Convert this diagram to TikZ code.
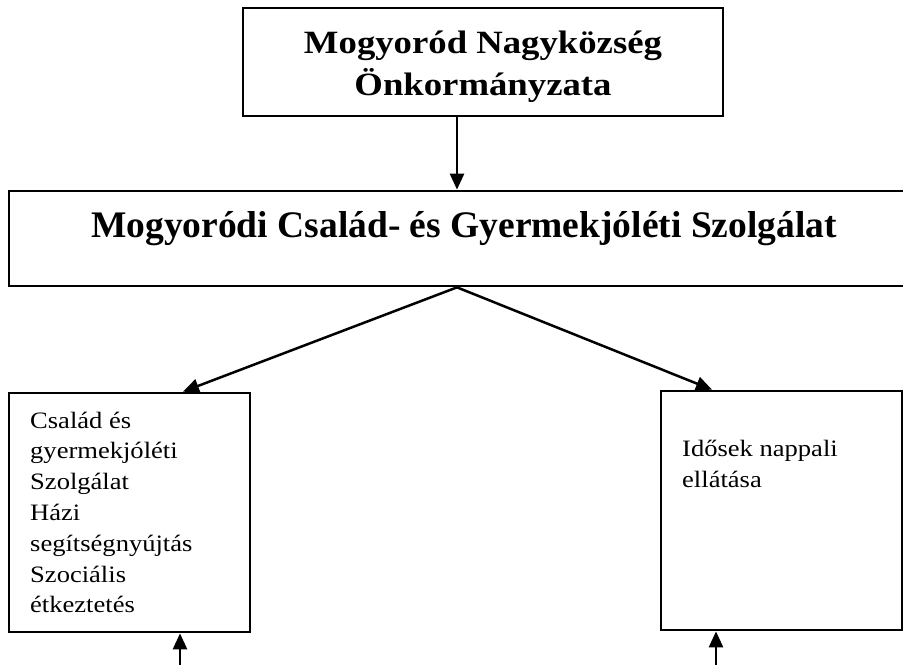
\documentclass[tikz,border=0pt]{standalone}
\usepackage{fontspec}
\setmainfont{Liberation Serif}
\newfontfamily\wideserif[FakeStretch=1.13]{Liberation Serif}
\usetikzlibrary{arrows.meta}

\tikzset{
	box/.style = {draw, line width = 2.7pt, inner sep = 0pt},
	conn/.style = {line width = 2.5pt, -{Triangle[length = 16pt, width = 14pt]}},
	headtext/.style = {font = \wideserif\bfseries\fontsize{32.5}{42}\selectfont, align = center},
	unittext/.style = {font = \wideserif\fontsize{23.5}{30.8}\selectfont, align = left, inner sep = 0pt}
}

\begin{document}
\begin{tikzpicture}[x = 1pt, y = -1pt]
	\useasboundingbox (0,0) rectangle (903,665);
	% boxes
	\node[box, minimum width = 480, minimum height = 108] (council) at (483,62) {};
	\node[box, minimum width = 896, minimum height = 95] (service) at (457,238.5) {};
	\node[box, minimum width = 241, minimum height = 239] (family) at (129.5,512.5) {};
	\node[box, minimum width = 241, minimum height = 239] (elderly) at (781.5,510.5) {};
	% texts (base = last line)
	\node[headtext, anchor = base] (councilname) at (483,95) {Mogyoród Nagyközség\\Önkormányzata};
	\node[font = \bfseries\fontsize{37.5}{45}\selectfont, anchor = base] (servicename) at (464,237) {Mogyoródi Család- és Gyermekjóléti Szolgálat};
	\node[unittext, anchor = base west] (familytext) at (30,612.8) {Család és\\gyermekjóléti\\Szolgálat\\Házi\\segítségnyújtás\\Szociális\\étkeztetés};
	\node[unittext, anchor = base west] (elderlytext) at (682,487) {Idősek nappali\\ellátása};
	% connectors
	\draw[conn] (council.south -| service.north) -- (service.north);
	\draw[conn] (service.south) -- ([xshift = 53.5pt]family.north);
	\draw[conn] (service.south) -- ([xshift = -69.5pt]elderly.north);
	\coordinate (familyfoot) at (180,665);
	\coordinate (elderlyfoot) at (716,665);
	\draw[conn] (familyfoot) -- (familyfoot |- family.south);
	\draw[conn] (elderlyfoot) -- (elderlyfoot |- elderly.south);
\end{tikzpicture}
\end{document}
